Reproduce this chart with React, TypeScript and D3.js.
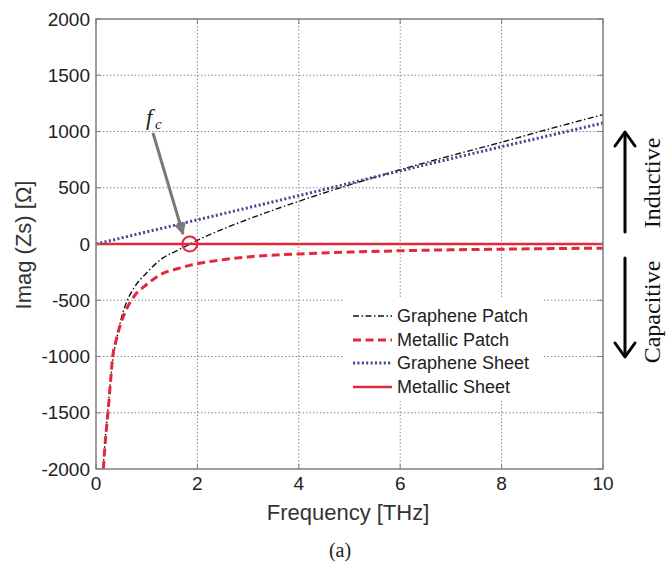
import * as d3 from "d3";

// Imag(Zs) [Ohm] vs frequency [THz]
const xTicks = [0, 2, 4, 6, 8, 10];
const yTicks = [-2000, -1500, -1000, -500, 0, 500, 1000, 1500, 2000];

const grapheneFreq = [0.14, 0.18, 0.24, 0.3, 0.34, 0.4, 0.5, 0.6, 0.75, 1, 1.3, 1.6, 1.85, 2.2, 2.6, 3, 3.5, 4, 5, 6, 7, 8, 9, 10];
const graphenePatch = [-2000, -1750, -1450, -1150, -1000, -860, -660, -520, -390, -255, -130, -58, 0, 75, 150, 220, 302, 380, 525, 660, 785, 905, 1030, 1150];

const metalFreq = [0.145, 0.19, 0.24, 0.29, 0.33, 0.4, 0.5, 0.6, 0.75, 1, 1.3, 1.6, 1.9, 2.5, 3, 4, 5, 6, 7, 8, 9, 10];
const metallicPatch = [-2000, -1720, -1480, -1200, -1000, -850, -690, -580, -465, -360, -265, -220, -185, -140, -115, -88, -72, -60, -52, -46, -41, -37];

const sheetFreq = [0, 2, 4, 6, 8, 10];
const grapheneSheet = [0, 215, 430, 650, 865, 1075];

const metalSheetFreq = [0, 10];
const metallicSheet = [0, 0];

const fc = 1.85;

const RED = "#e3283a";
const BLUE = "#3c4896";

const series = [
  { name: "Graphene Patch", color: "#111", width: 1.4, dash: "6,2.5,1.5,2.5", fx: grapheneFreq, fy: graphenePatch },
  { name: "Metallic Patch", color: RED, width: 3, dash: "8,4.5", fx: metalFreq, fy: metallicPatch },
  { name: "Graphene Sheet", color: BLUE, width: 3, dash: "2,2.4", fx: sheetFreq, fy: grapheneSheet },
  { name: "Metallic Sheet", color: RED, width: 2.5, dash: "none", fx: metalSheetFreq, fy: metallicSheet },
];

export default function App() {
  const left = 96, right = 603, top = 19, bottom = 469;
  const x = d3.scaleLinear().domain([0, 10]).range([left, right]);
  const y = d3.scaleLinear().domain([-2000, 2000]).range([bottom, top]);

  const line = d3.line<[number, number]>()
    .x(d => x(d[0]))
    .y(d => y(d[1]))
    .curve(d3.curveMonotoneX);

  const sans = "'Liberation Sans', Arial, sans-serif";
  const serif = "'Liberation Serif', 'Times New Roman', serif";
  const grid = "#8a8a8a";
  const axis = "#7f7f7f";

  const legendRows = [316, 340, 363, 387];

  return (
    <svg width={666} height={563} style={{ position: "absolute", left: 0, top: 0, background: "#fff" }}>
      <defs>
        <clipPath id="plot">
          <rect x={left} y={top} width={right - left} height={bottom - top} />
        </clipPath>
        <marker id="grayHead" viewBox="0 0 10 10" refX="9" refY="5" markerWidth="4.5" markerHeight="4" orient="auto" markerUnits="strokeWidth">
          <path d="M0,0 L10,5 L0,10 z" fill="#7a7a7a" />
        </marker>
      </defs>

      {/* grid */}
      {xTicks.filter(t => t > 0 && t < 10).map(t => (
        <line key={"gx" + t} x1={x(t)} x2={x(t)} y1={top} y2={bottom} stroke={grid} strokeWidth={1} strokeDasharray="1.5,2" />
      ))}
      {yTicks.filter(t => t > -2000 && t < 2000).map(t => (
        <line key={"gy" + t} x1={left} x2={right} y1={y(t)} y2={y(t)} stroke={grid} strokeWidth={1} strokeDasharray="1.5,2" />
      ))}

      {/* legend background hides grid */}
      <rect x={344} y={299} width={198} height={102} fill="#fff" />

      {/* curves */}
      <g clipPath="url(#plot)">
        {series.map(s => (
          <path key={s.name}
            d={line(s.fx.map((f, i) => [f, s.fy[i]] as [number, number])) || ""}
            fill="none" stroke={s.color} strokeWidth={s.width}
            strokeDasharray={s.dash === "none" ? undefined : s.dash} />
        ))}
      </g>

      {/* fc marker */}
      <circle cx={x(fc)} cy={y(0)} r={7.5} fill="none" stroke={RED} strokeWidth={2} />
      <line x1={153} y1={133} x2={183} y2={234} stroke="#7a7a7a" strokeWidth={3} markerEnd="url(#grayHead)" />
      <text x={146} y={125} fontFamily={serif} fontStyle="italic" fontSize={23} fill="#222">f</text>
      <text x={155} y={129} fontFamily={serif} fontStyle="italic" fontSize={15} fill="#222">c</text>

      {/* axes box with inner ticks */}
      <rect x={left} y={top} width={right - left} height={bottom - top} fill="none" stroke={axis} strokeWidth={1.5} />
      {xTicks.map(t => (
        <g key={"tx" + t}>
          <line x1={x(t)} x2={x(t)} y1={bottom} y2={bottom - 5} stroke={axis} />
          <line x1={x(t)} x2={x(t)} y1={top} y2={top + 5} stroke={axis} />
          <text x={x(t)} y={490} textAnchor="middle" fontFamily={sans} fontSize={19} fill="#222">{t}</text>
        </g>
      ))}
      {yTicks.map(t => (
        <g key={"ty" + t}>
          <line x1={left} x2={left + 5} y1={y(t)} y2={y(t)} stroke={axis} />
          <line x1={right} x2={right - 5} y1={y(t)} y2={y(t)} stroke={axis} />
          <text x={90} y={y(t)} dy="0.35em" textAnchor="end" fontFamily={sans} fontSize={19} fill="#222">{t}</text>
        </g>
      ))}

      {/* axis titles */}
      <text x={348} y={520} textAnchor="middle" fontFamily={sans} fontSize={22} fill="#333">Frequency [THz]</text>
      <text transform="translate(31,245) rotate(-90)" textAnchor="middle" fontFamily={sans} fontSize={22} fill="#333">Imag (Zs) [Ω]</text>
      <text x={340} y={557} textAnchor="middle" fontFamily={serif} fontSize={20} fill="#222">(a)</text>

      {/* legend */}
      {series.map((s, i) => (
        <g key={"lg" + s.name}>
          <line x1={353} x2={392} y1={legendRows[i]} y2={legendRows[i]} stroke={s.color}
            strokeWidth={s.width} strokeDasharray={s.dash === "none" ? undefined : s.dash} />
          <text x={397} y={legendRows[i]} dy="0.36em" fontFamily={sans} fontSize={18} fill="#222">{s.name}</text>
        </g>
      ))}

      {/* inductive / capacitive arrows */}
      <g stroke="#000" strokeWidth={3} fill="none" strokeLinecap="round" strokeLinejoin="round">
        <line x1={625} y1={232} x2={625} y2={133} />
        <polyline points="615,146 625,132 635,146" />
        <line x1={625} y1={258} x2={625} y2={356} />
        <polyline points="615,343 625,357 635,343" />
      </g>
      <text transform="translate(660,183) rotate(-90)" textAnchor="middle" fontFamily={serif} fontSize={24} fill="#111">Inductive</text>
      <text transform="translate(660,312) rotate(-90)" textAnchor="middle" fontFamily={serif} fontSize={24} fill="#111">Capacitive</text>
    </svg>
  );
}
